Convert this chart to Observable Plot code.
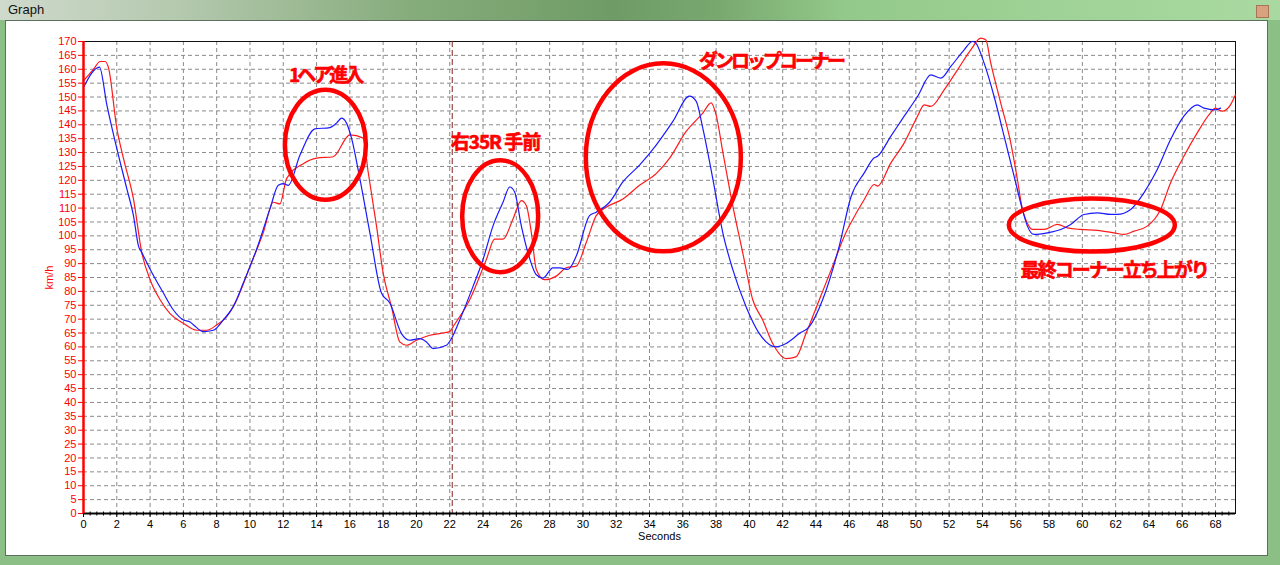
<!DOCTYPE html>
<html><head><meta charset="utf-8">
<script src="https://cdn.jsdelivr.net/npm/d3@7"></script>
<script src="https://cdn.jsdelivr.net/npm/@observablehq/plot@0.6"></script>
<style>
html,body{margin:0;padding:0;width:1280px;height:565px;overflow:hidden;background:#8cbf86;}
#title{position:absolute;left:0;top:0;width:1280px;height:20px;background:linear-gradient(90deg,#cfd9cc 0%,#b4c9ae 14%,#86ac7c 32%,#6f9c66 48%,#79a86f 56%,#93c98a 66%,#9fd296 82%,#a9d9a0 100%);}
#title span{position:absolute;left:8px;top:2px;color:#111;font:13px "Liberation Sans",Arial,sans-serif;}
#close{position:absolute;left:1256px;top:5px;width:11px;height:11px;background:#d8a27e;border:1px solid #a87455;}
#panel{position:absolute;left:5px;top:20px;width:1263px;height:536px;background:#fff;border:1px solid #5f6f5f;box-sizing:border-box;}
#chart{position:absolute;left:0;top:0;}
#chart g[aria-label^="y-axis"]{color:#ff0000;}
</style>
</head><body>
<div id="title"><span>Graph</span><div id="close"></div></div>
<div id="panel"></div>
<div id="chart"></div>
<script>
// ---- data ----
const blueT = [0,0.96,1.4,2,2.6,3,3.3,3.5,4,4.8,5.4,6,6.4,6.6,7.2,7.8,8.4,9,9.6,10.4,11.2,11.7,12,12.3,13,13.9,14.8,15.2,15.5,15.8,16.1,16.6,17.2,17.9,18.4,19.1,19.6,20.2,20.6,21,21.8,22.1,22.6,23.4,24,24.6,25.2,25.6,25.9,26.3,26.7,27.2,27.6,28.2,28.6,29.1,29.6,30.4,30.8,31.6,32.4,33.4,34.4,35.4,36.4,36.8,37.2,37.8,38.4,39,39.8,40.6,41.6,42.2,43,43.6,44.4,45.4,46.1,46.9,47.5,47.7,48.5,49.3,50.1,50.9,51.5,52.1,52.9,53.4,53.6,54.1,54.7,55.3,55.9,56.4,56.7,57.1,57.9,58.7,59.3,60.1,60.9,61.7,62.1,62.9,63.7,64.5,65.3,66.1,66.9,67.3,68,68.3];
const blueV = [153.5,160.8,147.3,131.5,117,107.3,96.4,94,88,79.4,73.3,69.7,69,68,65.5,66,69.7,74.5,83,95.2,109.7,118.2,118.8,118.2,129,138.5,139,140.6,142.4,140.6,135.2,120.6,101.2,79.4,75.8,64.8,62.4,63,61.8,59.4,60.6,63,69.7,81.8,91.5,103.6,112.1,117.6,115.8,103.6,93.9,86,84.8,88.5,88.5,87.9,92.7,107.3,108.5,112.1,119.4,125.5,132.7,141.2,150.3,148.5,138.8,120.6,101.2,87.9,74.5,64.8,60,61.2,64.8,67.3,77,96.4,114,122.7,128.1,128.7,135.9,143.1,150.2,158,156.8,161,167,170,169.4,162.2,150.2,135.9,121.5,109.5,103.5,100.5,101.1,102.3,104.1,107.7,108.3,107.7,107.7,109.5,115.5,123.9,134.7,143.1,147.2,146,145.4,146];
const redT = [0,0.6,1,1.3,1.5,2,2.4,3,3.5,4,4.6,5.2,6,6.8,7.4,8,8.6,9.2,10,10.8,11.4,11.8,12.2,13.2,14,15,16,16.8,17.1,17.6,18,18.5,19,19.4,20,20.8,21.6,22,22.2,23.2,24.2,24.7,25.2,25.8,26.3,26.6,26.9,27.2,27.7,28.4,29,29.6,30.2,30.8,31.4,32.4,33.4,34.4,35.2,36.2,37.2,37.7,38,38.4,39,39.6,40.2,40.8,41.4,42.2,42.8,43.4,44.2,45,45.8,46.1,46.9,47.5,47.7,48.5,49.3,50.1,50.5,50.9,51.7,52.5,53.3,53.9,54.2,54.5,55.1,55.7,56.1,56.4,56.6,57,57.7,58.5,59.1,59.9,60.9,61.9,62.5,63.1,63.9,64.7,65.3,66.1,66.9,67.7,68,68.4,68.9,69.2];
const redV = [155.8,160,162.8,162.8,160.6,138.8,127.9,113.3,94,84.2,77,72,68.5,66,66,67.9,70.9,77,89,101.2,112.1,111.5,120.6,126,128,128.5,136.4,135.2,123,103.6,86.6,74.5,61.8,60.6,62.4,64.2,65,65.5,67.3,77,91.5,98.8,98.8,106.1,112.7,110.9,101.2,87.9,84.2,85.5,88.5,89.1,97.6,107.3,110.3,113.3,118.2,122.4,127.9,137.6,144.2,147.9,143.6,130.3,110.9,93.9,77,69.7,61.2,55.8,56.4,64.8,77,89.1,101.2,104.7,113.1,118.5,117.9,126.3,133.5,143.1,147.2,146.6,152.6,159.8,167,171.2,170.6,162.2,147.8,133.5,120.3,109.5,105.9,102.3,102.3,104.1,102.9,102.3,102,101.1,100.5,101.7,103.5,109.5,119.1,128.7,137.1,144.3,146,144.9,147.2,150.8];
const xTicks = d3.range(0, 69, 2);
const yTicks = d3.range(0, 171, 5);
const xMinor = d3.range(0, 69.2, 0.4);
const markerTime = [22.15];
const annoText = ["1ヘア進入", "右35R 手前", "ダンロップコーナー", "最終コーナー立ち上がり"];
const annoTextT = [14.52, 24.75, 41.3, 61.92];
const annoTextV = [157.6, 133.5, 162.7, 87.3];
const circleT = [14.53, 25.03, 34.83, 60.57];
const circleV = [132.8, 107.1, 128.3, 103.9];

// ---- tables built from the arrays ----
const blue = blueT.map((t, i) => ({t, v: blueV[i]}));
const red = redT.map((t, i) => ({t, v: redV[i]}));
const labels = annoText.map((s, i) => ({s, t: annoTextT[i], v: annoTextV[i]}));

// styles: ellipse outline sizes (px) and label letter spacing (px)
const ellipseSize = [[40.5, 55], [38, 56], [77.5, 94], [83, 26.5]];
const labelSpacing = [-3, -1, -3, -2];
function ellipseSymbol(rx, ry) {
  const k = 0.5523;
  return {draw(c) {
    c.moveTo(rx, 0);
    c.bezierCurveTo(rx, ry * k, rx * k, ry, 0, ry);
    c.bezierCurveTo(-rx * k, ry, -rx, ry * k, -rx, 0);
    c.bezierCurveTo(-rx, -ry * k, -rx * k, -ry, 0, -ry);
    c.bezierCurveTo(rx * k, -ry, rx, -ry * k, rx, 0);
    c.closePath();
  }};
}
const minorTick = {draw(c) { c.moveTo(0, -2); c.lineTo(0, 2); }};

const ellipseMarks = circleT.map((t, i) => Plot.dot([{t, v: circleV[i]}], {
  x: "t", y: "v", symbol: ellipseSymbol(...ellipseSize[i]), fill: "none", stroke: "#ff0000", strokeWidth: 4.5
}));

const chart = Plot.plot({
  width: 1280, height: 565,
  marginLeft: 83, marginRight: 45, marginTop: 41, marginBottom: 52,
  style: {background: "transparent", overflow: "visible", fontFamily: "'Liberation Sans', Arial, sans-serif", fontSize: "11px"},
  x: {domain: [0, 69.2], ticks: xTicks, tickFormat: d => d, tickSize: 4, tickPadding: 3, label: "Seconds", labelArrow: false, labelAnchor: "center", labelOffset: 26},
  y: {domain: [0, 170], ticks: yTicks, tickFormat: d => d, tickSize: 5, tickPadding: 2, label: "km/h", labelArrow: false, labelAnchor: "center", labelOffset: 38},
  marks: [
    Plot.ruleX(xTicks.filter(d => d > 0), {stroke: "#8a8a8a", strokeDasharray: "4,3", strokeWidth: 1}),
    Plot.ruleY(yTicks.filter(d => d > 0), {stroke: "#8a8a8a", strokeDasharray: "4,3", strokeWidth: 1}),
    Plot.frame({stroke: "#111", strokeWidth: 1}),
    Plot.ruleX(markerTime, {stroke: "#8b2020", strokeDasharray: "6,3", strokeWidth: 1}),
    Plot.line(red, {x: "t", y: "v", stroke: "#ff1a1a", strokeWidth: 1.2, curve: "monotone-x"}),
    Plot.line(blue, {x: "t", y: "v", stroke: "#1a1aff", strokeWidth: 1.2, curve: "monotone-x"}),
    ...ellipseMarks,
    Plot.text(labels, {x: "t", y: "v", text: "s", fill: "#ff0000", stroke: "#ff0000", strokeWidth: 0.6, fontSize: 19, fontWeight: "bold", fontFamily: "'Noto Sans CJK JP', sans-serif", className: "anno"}),
    Plot.ruleY([0], {stroke: "#000", strokeWidth: 2}),
    Plot.dot(xMinor, {x: d => d, y: 0, symbol: minorTick, stroke: "#000", strokeWidth: 1, fill: "none"}),
    Plot.ruleX([0], {stroke: "#ff0000", strokeWidth: 2.5})
  ]
});
// drop any automatic arrows from the axis labels
d3.select(chart).selectAll("text").each(function() {
  if (this.children.length === 0) {
    const s = this.textContent;
    const c = s.replace(/\s*[→↑←↓]\s*/g, "");
    if (c !== s) this.textContent = c;
  }
});
d3.select(chart).selectAll(".anno text").each(function(d, i) {
  this.style.letterSpacing = labelSpacing[i] + "px";
});
document.getElementById("chart").appendChild(chart);
</script>
</body></html>
